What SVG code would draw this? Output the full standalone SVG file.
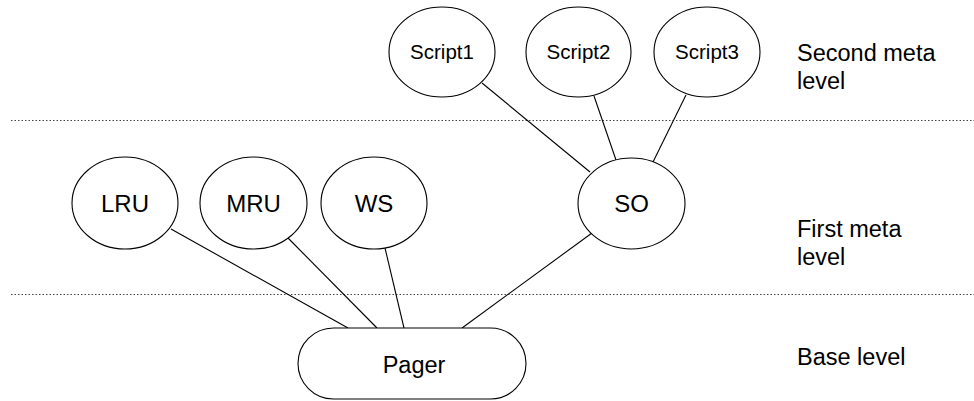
<svg xmlns="http://www.w3.org/2000/svg" width="974" height="401" viewBox="0 0 974 401">
<style>
.n{fill:#fff;stroke:#000;stroke-width:1.1}
.c{stroke:#000;stroke-width:1.1;fill:none}
.d{stroke:#444;stroke-width:1;stroke-dasharray:1.5 2;fill:none}
text{font-family:"Liberation Sans",Arial,sans-serif;fill:#000}
.t{font-size:24px;text-anchor:middle}
.p{font-size:23.5px;text-anchor:middle}
.s{font-size:20.5px;text-anchor:middle}
.l{font-size:23.5px}
</style>
<g id="levels">
<line class="d" x1="11" y1="120.5" x2="974" y2="120.5"/>
<line class="d" x1="11" y1="294.5" x2="974" y2="294.5"/>
</g>
<g id="connectors">
<line class="c" x1="482" y1="83" x2="590" y2="172"/>
<line class="c" x1="594" y1="96" x2="616" y2="160"/>
<line class="c" x1="686" y1="95" x2="653" y2="162"/>
<line class="c" x1="171" y1="229" x2="348" y2="328"/>
<line class="c" x1="288" y1="238" x2="377" y2="328"/>
<line class="c" x1="385" y1="248" x2="404" y2="328"/>
<line class="c" x1="592" y1="233" x2="462" y2="328"/>
</g>
<g id="script1"><ellipse class="n" cx="442" cy="52" rx="53" ry="45"/><text class="s" x="442" y="59">Script1</text></g>
<g id="script2"><ellipse class="n" cx="578.5" cy="52" rx="52.5" ry="45"/><text class="s" x="578.5" y="59">Script2</text></g>
<g id="script3"><ellipse class="n" cx="707" cy="52" rx="53" ry="45"/><text class="s" x="707" y="59">Script3</text></g>
<g id="lru"><ellipse class="n" cx="125" cy="203" rx="53" ry="46"/><text class="t" x="125" y="211.5">LRU</text></g>
<g id="mru"><ellipse class="n" cx="253.5" cy="203" rx="53.5" ry="46"/><text class="t" x="253.5" y="211.5">MRU</text></g>
<g id="ws"><ellipse class="n" cx="374" cy="203" rx="53" ry="46"/><text class="t" x="374" y="211.5">WS</text></g>
<g id="so"><ellipse class="n" cx="631.5" cy="203.5" rx="53.5" ry="45.5"/><text class="t" x="631.5" y="212">SO</text></g>
<g id="pager"><rect class="n" x="298" y="328" width="228" height="71" rx="35.5" ry="35.5"/><text class="p" x="414" y="372.5">Pager</text></g>
<g id="labels">
<text class="l" x="797" y="60.5">Second meta</text>
<text class="l" x="797" y="89">level</text>
<text class="l" x="797" y="237">First meta</text>
<text class="l" x="797" y="265">level</text>
<text class="l" x="797" y="365">Base level</text>
</g>
</svg>
